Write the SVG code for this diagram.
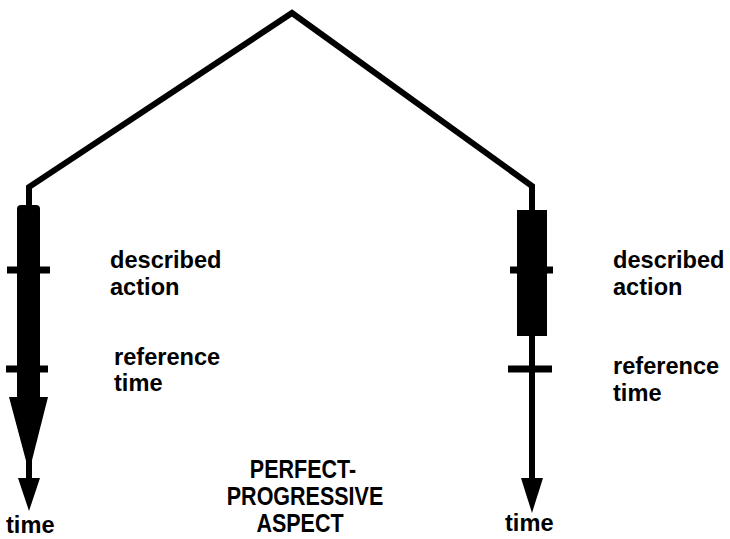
<svg xmlns="http://www.w3.org/2000/svg" width="730" height="539" viewBox="0 0 730 539">
<style>
.line{fill:none;stroke:#000;stroke-width:6;stroke-linejoin:miter}
.fill{fill:#000;stroke:none}
.lbl{font-family:"Liberation Sans",Arial,sans-serif;font-weight:bold;font-size:23.6px;fill:#000}
.cap{font-family:"Liberation Sans",Arial,sans-serif;font-weight:bold;font-size:21.5px;fill:#000;text-anchor:middle}
</style>
<rect width="730" height="539" fill="#fff"/>
<g id="connectors">
<polyline class="line" points="29,205 29,187 292,13 532,186 532,212"/>
</g>
<g id="left-timeline">
<line class="line" x1="29" y1="200" x2="29" y2="482"/>
<polygon class="fill" points="18,478 40,478 29,511"/>
<rect class="fill" x="17" y="205" width="23" height="196" rx="4"/>
<polygon class="fill" points="9,397 48,397 29,472"/>
<rect class="fill" x="7" y="266.5" width="43" height="7"/>
<rect class="fill" x="6" y="365.5" width="42" height="7"/>
<text class="lbl" x="6" y="533">time</text>
</g>
<g id="left-labels">
<text class="lbl" x="110" y="268">described</text>
<text class="lbl" x="110" y="295">action</text>
<text class="lbl" x="114" y="365">reference</text>
<text class="lbl" x="114" y="391">time</text>
</g>
<g id="right-timeline">
<line class="line" x1="532" y1="205" x2="532" y2="482"/>
<polygon class="fill" points="521,478 543,478 532,513"/>
<rect class="fill" x="517" y="210" width="30" height="126"/>
<rect class="fill" x="510" y="266.5" width="43" height="7"/>
<rect class="fill" x="508" y="365.5" width="44" height="7"/>
<text class="lbl" x="505" y="531">time</text>
</g>
<g id="right-labels">
<text class="lbl" x="613" y="268">described</text>
<text class="lbl" x="613" y="295">action</text>
<text class="lbl" x="613" y="374">reference</text>
<text class="lbl" x="613" y="401">time</text>
</g>
<g id="caption">
<text class="cap" transform="translate(303,478) scale(1,1.22)">PERFECT-</text>
<text class="cap" transform="translate(305,505) scale(1,1.22)">PROGRESSIVE</text>
<text class="cap" transform="translate(300,532) scale(1,1.22)">ASPECT</text>
</g>
</svg>
